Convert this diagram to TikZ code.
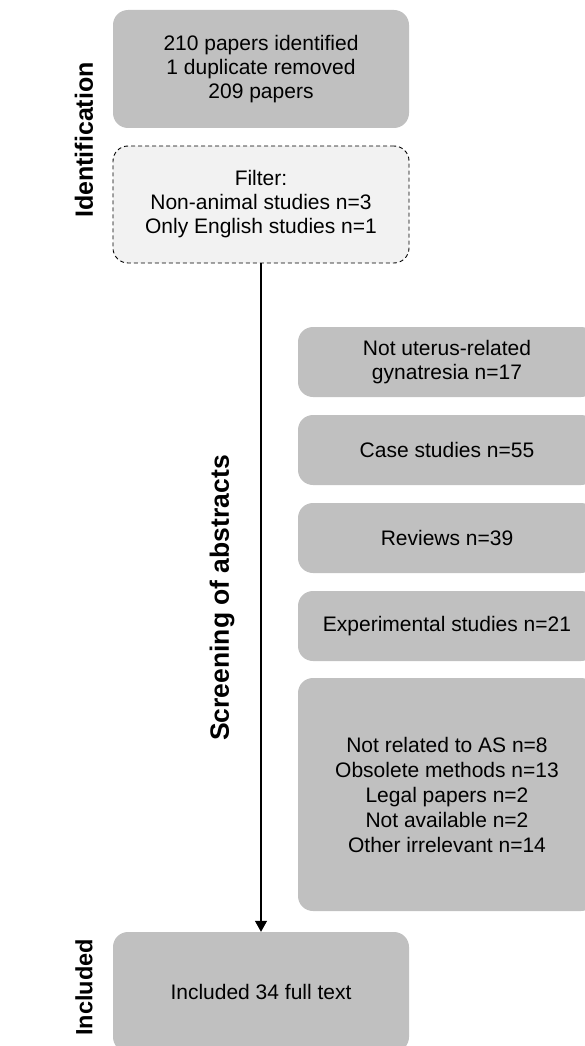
\documentclass[tikz,border=0pt]{standalone}
\usepackage{fontspec}
\setmainfont{Liberation Sans}
\usepackage{xcolor}
\usepackage{tikz}
\usetikzlibrary{arrows.meta}

\definecolor{boxgray}{RGB}{192,192,192}
\definecolor{filtergray}{RGB}{242,242,242}

\tikzset{
    box/.style={rectangle, rounded corners=15pt, fill=boxgray, align=center,
        inner sep=0pt, font=\fontsize{21}{24}\selectfont},
    filterbox/.style={box, fill=filtergray, draw=black, line width=0.9pt,
        dash pattern=on 4pt off 3pt},
    sidebox/.style={box, minimum width=298pt},
    phase/.style={rotate=90, inner sep=0pt, font=\fontsize{25}{30}\selectfont\bfseries},
}

\begin{document}
\begin{tikzpicture}[x=1pt, y=-1pt]
            \useasboundingbox (0, 0) rectangle (584, 1046);

            \node[box, minimum width=296pt, minimum height=118pt] (0) at (261, 69) {
                210 papers identified\\1 duplicate removed\\209 papers
            };
            \node[filterbox, minimum width=296pt, minimum height=117pt] (1) at (261, 204.5) {
                Filter:\\Non-animal studies n=3\\Only English studies n=1
            };

            \node[sidebox, minimum height=70pt] (2) at (447, 362) {Not uterus-related\\gynatresia n=17};
            \node[sidebox, minimum height=70pt] (3) at (447, 450) {Case studies n=55};
            \node[sidebox, minimum height=70pt] (4) at (447, 538) {Reviews n=39};
            \node[sidebox, minimum height=70pt] (5) at (447, 626) {Experimental studies n=21};
            \node[sidebox, minimum height=233pt, font=\fontsize{21}{25}\selectfont] (6) at (447, 794.5) {
                Not related to AS n=8\\Obsolete methods n=13\\Legal papers n=2\\Not available n=2\\Other irrelevant n=14
            };

            \node[box, minimum width=296pt, minimum height=120pt] (7) at (261, 992) {Included 34 full text};

            \draw[-{Triangle[width=12pt, length=11pt]}, line width=1.2pt] (1) to (7);

            \node[phase] (8) at (84, 140) {Identification};
            \node[phase, font=\fontsize{26.5}{30}\selectfont\bfseries] (9) at (222, 598) {Screening of abstracts};
            \node[phase, font=\fontsize{23.5}{30}\selectfont\bfseries] (10) at (84, 987.5) {Included};
        \end{tikzpicture}
\end{document}
